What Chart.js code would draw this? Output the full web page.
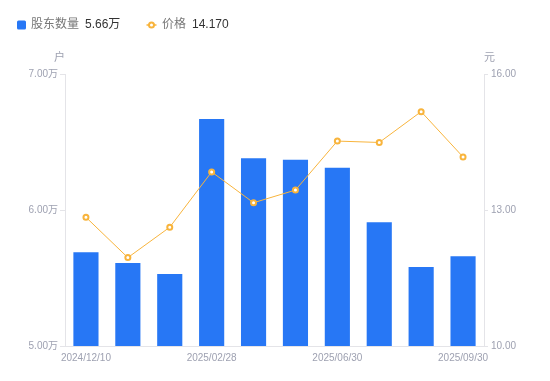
<!DOCTYPE html>
<html>
<head>
<meta charset="utf-8">
<script src="https://cdn.jsdelivr.net/npm/chart.js@4/dist/chart.umd.min.js"></script>
<style>
html,body{margin:0;padding:0;background:#fff;}
#wrap{width:550px;height:381px;position:relative;}
</style>
</head>
<body>
<div id="wrap"><canvas id="c" width="550" height="381"></canvas></div>
<script>
const categories = ['2024/12/10','2024/12/20','2024/12/31','2025/02/28','2025/03/31','2025/04/30','2025/06/30','2025/07/31','2025/08/31','2025/09/30'];
const holders = [5.69, 5.61, 5.53, 6.67, 6.38, 6.37, 6.31, 5.91, 5.58, 5.66];
const prices = [12.84, 11.95, 12.62, 13.84, 13.16, 13.44, 14.52, 14.49, 15.17, 14.17];
const holderTicks = [5, 6, 7];
const priceTicks = [10, 13, 16];
const shownLabelIdx = [0, 3, 6, 9];
const legendNames = ['股东数量', '价格'];
const legendValues = ['5.66万', '14.170'];
const axisTitles = ['户', '元'];

const FONT = "'Liberation Sans', Arial, 'Noto Sans CJK SC', sans-serif";
const TICK = '#9ea1b1';
const LINE = '#e4e4e8';
const BLUE = '#2777f5';
const ORANGE = '#f8b43c';

const overlay = {
  id: 'overlay',
  afterDraw(chart) {
    const ctx = chart.ctx;
    const a = chart.chartArea;
    ctx.save();
    // legend
    ctx.textBaseline = 'middle';
    ctx.font = '12px ' + FONT;
    const ly = 25;
    ctx.fillStyle = BLUE;
    ctx.beginPath();
    if (ctx.roundRect) ctx.roundRect(17, 20.5, 9, 9, 1.5); else ctx.rect(17, 20.5, 9, 9);
    ctx.fill();
    ctx.fillStyle = '#777';
    ctx.textAlign = 'left';
    ctx.fillText(legendNames[0], 31, ly);
    ctx.fillStyle = '#333';
    ctx.fillText(legendValues[0], 85, ly);
    ctx.strokeStyle = ORANGE;
    ctx.lineWidth = 1.5;
    ctx.beginPath(); ctx.moveTo(146.5, ly); ctx.lineTo(156.5, ly); ctx.stroke();
    ctx.lineWidth = 2;
    ctx.fillStyle = '#fff';
    ctx.beginPath(); ctx.arc(151.5, ly, 2.5, 0, Math.PI*2); ctx.fill(); ctx.stroke();
    ctx.fillStyle = '#777';
    ctx.fillText(legendNames[1], 162, ly);
    ctx.fillStyle = '#333';
    ctx.fillText(legendValues[1], 192, ly);
    // axis titles
    ctx.font = '11px ' + FONT;
    ctx.fillStyle = TICK;
    ctx.textAlign = 'right';
    ctx.fillText(axisTitles[0], a.left, 58);
    ctx.textAlign = 'left';
    ctx.fillText(axisTitles[1], a.right, 58);
    ctx.restore();
  }
};

new Chart(document.getElementById('c'), {
  data: {
    labels: categories,
    datasets: [
      {
        type: 'line', label: legendNames[1], data: prices, yAxisID: 'y1', order: 0,
        borderColor: ORANGE, borderWidth: 1, backgroundColor: '#fff',
        pointRadius: 2.5, pointBorderWidth: 2, pointBackgroundColor: '#fff', pointBorderColor: ORANGE,
        tension: 0
      },
      {
        type: 'bar', label: legendNames[0], data: holders, yAxisID: 'y', order: 1,
        backgroundColor: BLUE, barPercentage: 0.6, categoryPercentage: 1.0
      }
    ]
  },
  options: {
    responsive: false,
    animation: false,
    devicePixelRatio: 1,
    layout: { padding: { top: 74, left: 0, right: 0, bottom: 0 } },
    plugins: { legend: { display: false }, tooltip: { enabled: false } },
    scales: {
      x: {
        afterFit(s) { s.height = 35; },
        grid: { display: true, drawOnChartArea: false, drawTicks: false, color: LINE },
        border: { display: true, color: LINE },
        ticks: {
          autoSkip: false, maxRotation: 0, padding: 6, color: TICK,
          font: { size: 10, family: FONT },
          callback(v, i) { return shownLabelIdx.includes(i) ? categories[i] : ''; }
        }
      },
      y: {
        position: 'left', min: holderTicks[0], max: holderTicks[holderTicks.length-1],
        afterFit(s) { s.width = 65; },
        afterBuildTicks(s) { s.ticks = holderTicks.map(v => ({ value: v })); },
        grid: { drawOnChartArea: false, drawTicks: true, tickLength: 5, color: LINE },
        border: { display: true, color: LINE },
        ticks: { padding: 2, color: TICK, font: { size: 10, family: FONT },
          callback(v) { return v.toFixed(2) + '万'; } }
      },
      y1: {
        position: 'right', min: priceTicks[0], max: priceTicks[priceTicks.length-1],
        afterFit(s) { s.width = 66; },
        afterBuildTicks(s) { s.ticks = priceTicks.map(v => ({ value: v })); },
        grid: { drawOnChartArea: false, drawTicks: true, tickLength: 4, color: LINE },
        border: { display: true, color: LINE },
        ticks: { padding: 3, color: TICK, font: { size: 10, family: FONT },
          callback(v) { return v.toFixed(2); } }
      }
    }
  },
  plugins: [overlay]
});
</script>
</body>
</html>
